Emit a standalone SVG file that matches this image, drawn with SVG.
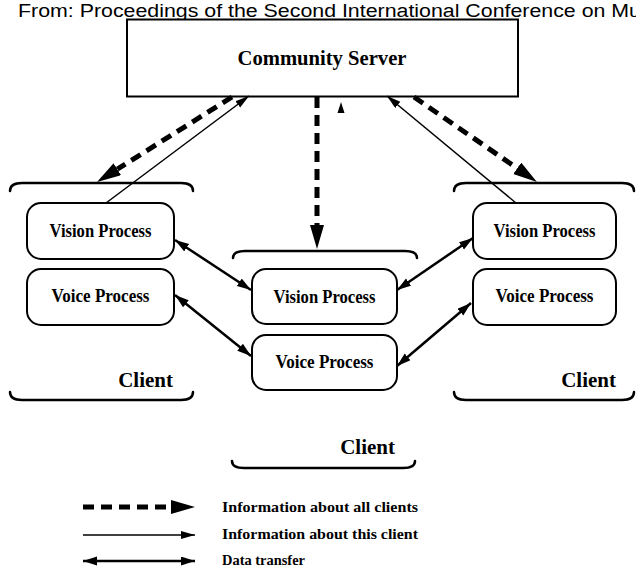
<svg xmlns="http://www.w3.org/2000/svg" width="636" height="569" viewBox="0 0 636 569">
<defs>
<style>
.box{fill:#fff;stroke:#000;stroke-width:2}
.brk{fill:none;stroke:#000;stroke-width:2.5;stroke-linecap:round}
.lbl{font-family:"Liberation Serif","Times New Roman",serif;font-weight:bold;fill:#000}
.proc{font-size:18px;text-anchor:middle}
.cli{font-size:21px}
.leg{font-size:15px}
.dash{fill:none;stroke:#000;stroke-width:5;stroke-dasharray:11 7}
.thin{fill:none;stroke:#000;stroke-width:1.5}
.data{fill:none;stroke:#000;stroke-width:2.5}
</style>
<marker id="mDash" markerUnits="userSpaceOnUse" markerWidth="26" markerHeight="16" refX="0" refY="7" orient="auto">
<path d="M0,0 L24,7 L0,14 Z" fill="#000"/>
</marker>
<marker id="mThin" markerUnits="userSpaceOnUse" markerWidth="16" markerHeight="10" refX="14" refY="4" orient="auto">
<path d="M0,0 L14,4 L0,8 Z" fill="#000"/>
</marker>
<marker id="mData" markerUnits="userSpaceOnUse" markerWidth="16" markerHeight="11" refX="14" refY="4.5" orient="auto-start-reverse">
<path d="M0,0 L14,4.5 L0,9 Z" fill="#000"/>
</marker>
</defs>
<rect x="0" y="0" width="636" height="569" fill="#fff"/>
<text x="18" y="17" font-family="'Liberation Sans',Arial,sans-serif" font-size="18" textLength="623" lengthAdjust="spacingAndGlyphs" fill="#000">From: Proceedings of the Second International Conference on Mu</text>

<g id="server">
<rect x="127" y="19.5" width="391" height="77" fill="#fff" stroke="#000" stroke-width="2"/>
<text class="lbl" x="322" y="65" font-size="22" text-anchor="middle" textLength="169" lengthAdjust="spacingAndGlyphs">Community Server</text>
</g>

<g id="connectors">
<line class="dash" x1="232" y1="97" x2="117.3" y2="169.2" marker-end="url(#mDash)"/>
<line class="dash" x1="317" y1="97" x2="317" y2="225" marker-end="url(#mDash)"/>
<line class="dash" x1="414" y1="97" x2="517.2" y2="168.3" marker-end="url(#mDash)"/>
<line class="thin" x1="106" y1="203" x2="249" y2="96" marker-end="url(#mThin)"/>
<line class="thin" x1="516" y1="203" x2="387" y2="96" marker-end="url(#mThin)"/>
<polygon points="341,102 337.5,113 344.5,113" fill="#000"/>
<line class="data" x1="175" y1="240" x2="251" y2="290" marker-start="url(#mData)" marker-end="url(#mData)"/>
<line class="data" x1="175" y1="295" x2="251" y2="356" marker-start="url(#mData)" marker-end="url(#mData)"/>
<line class="data" x1="397" y1="290" x2="473" y2="238" marker-start="url(#mData)" marker-end="url(#mData)"/>
<line class="data" x1="397" y1="366" x2="471" y2="303" marker-start="url(#mData)" marker-end="url(#mData)"/>
</g>

<g id="client-left">
<path class="brk" d="M10,191 Q10,183 22,183 L181,183 Q193,183 193,191"/>
<path class="brk" d="M10,392 Q10,400 22,400 L181,400 Q193,400 193,392"/>
<g id="left-vision">
<rect class="box" x="27" y="203" width="147" height="56" rx="14"/>
<text class="lbl proc" x="100.5" y="237" textLength="102" lengthAdjust="spacingAndGlyphs">Vision Process</text>
</g>
<g id="left-voice">
<rect class="box" x="27" y="269" width="147" height="56" rx="14"/>
<text class="lbl proc" x="100.5" y="302" textLength="98" lengthAdjust="spacingAndGlyphs">Voice Process</text>
</g>
<text class="lbl cli" x="173" y="387" text-anchor="end">Client</text>
</g>

<g id="client-middle">
<path class="brk" d="M233,258 Q233,251 245,251 L405,251 Q417,251 417,258"/>
<path class="brk" d="M232,461 Q232,468 244,468 L403,468 Q415,468 415,461"/>
<g id="middle-vision">
<rect class="box" x="252" y="269" width="145" height="55" rx="14"/>
<text class="lbl proc" x="324.5" y="303" textLength="102" lengthAdjust="spacingAndGlyphs">Vision Process</text>
</g>
<g id="middle-voice">
<rect class="box" x="252" y="335" width="145" height="55" rx="14"/>
<text class="lbl proc" x="324.5" y="368" textLength="98" lengthAdjust="spacingAndGlyphs">Voice Process</text>
</g>
<text class="lbl cli" x="395" y="454" text-anchor="end">Client</text>
</g>

<g id="client-right">
<path class="brk" d="M454,191 Q454,183 466,183 L622,183 Q634,183 634,191"/>
<path class="brk" d="M454,392 Q454,400 466,400 L622,400 Q634,400 634,392"/>
<g id="right-vision">
<rect class="box" x="473" y="203" width="143" height="56" rx="14"/>
<text class="lbl proc" x="544.5" y="237" textLength="102" lengthAdjust="spacingAndGlyphs">Vision Process</text>
</g>
<g id="right-voice">
<rect class="box" x="473" y="269" width="143" height="56" rx="14"/>
<text class="lbl proc" x="544.5" y="302" textLength="98" lengthAdjust="spacingAndGlyphs">Voice Process</text>
</g>
<text class="lbl cli" x="616" y="387" text-anchor="end">Client</text>
</g>

<g id="legend">
<line class="dash" x1="83" y1="507" x2="171" y2="507" marker-end="url(#mDash)"/>
<line class="thin" x1="83" y1="535" x2="195" y2="535" marker-end="url(#mThin)"/>
<line class="data" x1="83" y1="561" x2="195" y2="561" marker-start="url(#mData)" marker-end="url(#mData)"/>
<text class="lbl leg" x="222" y="512" textLength="196" lengthAdjust="spacingAndGlyphs">Information about all clients</text>
<text class="lbl leg" x="222" y="539" textLength="196" lengthAdjust="spacingAndGlyphs">Information about this client</text>
<text class="lbl leg" x="222" y="565" textLength="83" lengthAdjust="spacingAndGlyphs">Data transfer</text>
</g>
</svg>
